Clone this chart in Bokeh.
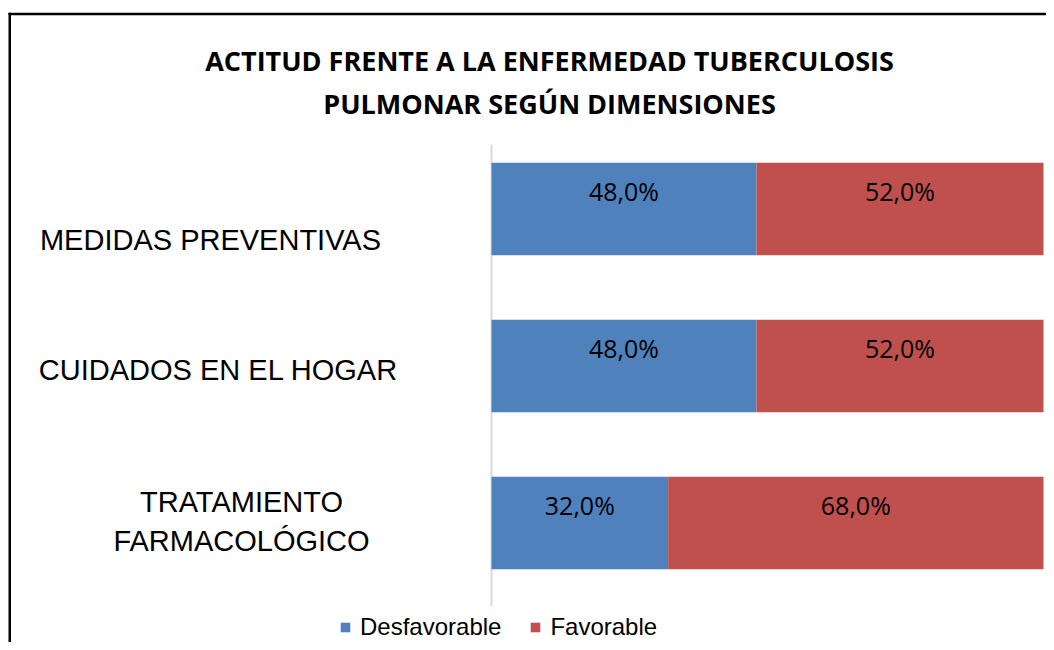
from bokeh.plotting import figure
from bokeh.models import (ColumnDataSource, Range1d, Legend, LegendItem,
                          LabelSet, Label, BoxAnnotation)
from bokeh.core.properties import value
from bokeh.embed import file_html
from bokeh.resources import INLINE
import numpy as np

# ---- data ----
categories = ["MEDIDAS PREVENTIVAS", "CUIDADOS EN EL HOGAR", "TRATAMIENTO\nFARMACOLÓGICO"]
desfavorable = [48.0, 48.0, 32.0]
favorable = [52.0, 52.0, 68.0]
series = ["Desfavorable", "Favorable"]
title_lines = ["ACTITUD FRENTE A LA ENFERMEDAD TUBERCULOSIS", "PULMONAR SEGÚN DIMENSIONES"]

# ---- layout / styles ----
colors = ["#4F81BD", "#C0504D"]
W, H = 1046, 642
PX_PER_PCT = 5.52          # horizontal scale (px per percent)
ZERO_X = 491               # canvas x of the 0 % line
PX_PER_CAT = 157           # vertical distance between category centres
LAST_CAT_Y = 522.5         # canvas y (from top) of the lowest category centre
cat_label_x = [210, 218, 241]       # canvas x centres of the category labels
cat_label_dy = [-31, -4, 1.5]       # vertical nudges of the category labels
CAT_LINE_GAP = 39                   # px between lines of a wrapped label

x_start = -ZERO_X / PX_PER_PCT
x_end = (W - ZERO_X) / PX_PER_PCT
y_end = LAST_CAT_Y / PX_PER_CAT
y_start = y_end - H / PX_PER_CAT

p = figure(width=W, height=H, output_backend="svg", toolbar_location=None,
           x_range=Range1d(x_start, x_end), y_range=Range1d(y_start, y_end),
           min_border=0)
p.xaxis.visible = False
p.yaxis.visible = False
p.xgrid.visible = False
p.ygrid.visible = False
p.outline_line_color = None
p.background_fill_color = "white"
p.border_fill_color = "white"

n = len(categories)
ypos = list(np.arange(n)[::-1].astype(float))   # top category first

# vertical category axis line
p.segment(x0=[0], x1=[0], y0=[-0.53], y1=[n - 1 + 0.41],
          line_color="#D9D9D9", line_width=2)

src = ColumnDataSource(dict(y=ypos, Desfavorable=desfavorable, Favorable=favorable))
rs = p.hbar_stack(series, y="y", height=0.59, color=colors, line_color=None, source=src)

# data labels
d = np.array(desfavorable)
f = np.array(favorable)
def fmt(v):
    return f"{v:.1f}".replace(".", ",") + "%"
lab_src = ColumnDataSource(dict(
    x=list(d / 2) + list(d + f / 2),
    y=ypos + ypos,
    t=[fmt(v) for v in desfavorable] + [fmt(v) for v in favorable]))
p.text(x="x", y="y", text="t", source=lab_src, text_align="center",
       text_baseline="middle", y_offset=-18, text_font=value("Open Sans"),
       text_font_size="25px", text_color="#000000")

# category labels (each line centred on its own)
ly, lx, ldy, lt = [], [], [], []
for yy, xx, dy, cat in zip(ypos, cat_label_x, cat_label_dy, categories):
    parts = cat.split("\n")
    for k, part in enumerate(parts):
        ly.append(yy)
        lx.append(xx)
        ldy.append(dy - (k - (len(parts) - 1) / 2) * CAT_LINE_GAP)
        lt.append(part)
cat_src = ColumnDataSource(dict(y=ly, x=lx, dy=ldy, t=lt))
p.add_layout(LabelSet(x="x", y="y", text="t", source=cat_src, x_units="screen",
                      y_offset="dy", text_align="center", text_baseline="middle",
                      text_font=value("Liberation Sans"), text_font_size="29px",
                      text_color="#000000"))

# title
for txt, ty in zip(title_lines, [H - 60, H - 103]):
    p.add_layout(Label(x=549, y=ty, x_units="screen", y_units="screen", text=txt,
                       text_align="center", text_baseline="middle",
                       text_font="Open Sans", text_font_style="bold",
                       text_font_size="27px", text_color="#000000"))

# chart border (only left and top edges are visible in the crop)
border = dict(left_units="canvas", right_units="canvas", top_units="canvas",
              bottom_units="canvas", fill_color="black", fill_alpha=1.0,
              line_color=None)
p.add_layout(BoxAnnotation(left=8.0, right=10.5, top=12.3, bottom=H, **border))
p.add_layout(BoxAnnotation(left=8.0, right=W, top=12.3, bottom=14.8, **border))

legend = Legend(items=[LegendItem(label=s, renderers=[r]) for s, r in zip(series, rs)],
                orientation="horizontal", location=(339, 1),
                glyph_width=12, glyph_height=12, label_standoff=9, spacing=28,
                padding=0, margin=0, border_line_color=None, background_fill_alpha=0,
                label_text_font="Liberation Sans", label_text_font_size="24px",
                label_text_color="#000000")
p.add_layout(legend, "center")

open("out.html", "w").write(file_html(p, INLINE))
